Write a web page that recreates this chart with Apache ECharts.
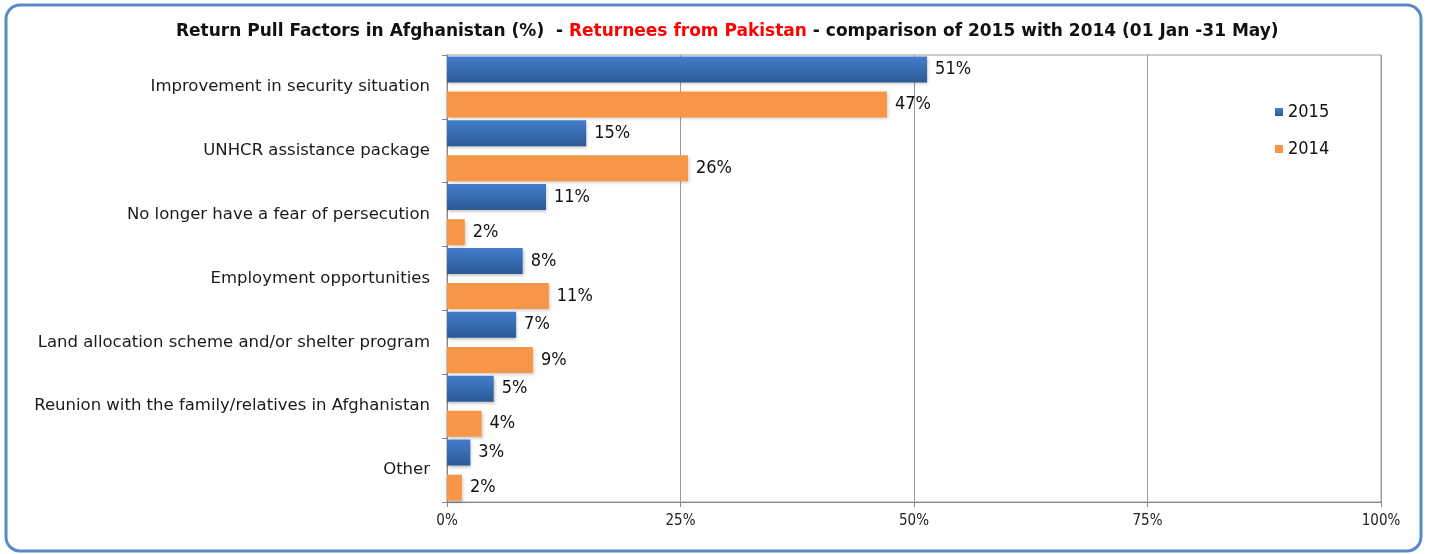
<!DOCTYPE html>
<html>
<head>
<meta charset="utf-8">
<script src="https://cdn.jsdelivr.net/npm/echarts@6/dist/echarts.min.js"></script>
<style>
  html, body { margin: 0; padding: 0; background: #fff; }
  #chart { width: 1429px; height: 554px; }
</style>
</head>
<body>
<div id="chart"></div>
<script>
// categories, top to bottom
var categories = [
  'Improvement in security situation',
  'UNHCR assistance package',
  'No longer have a fear of persecution',
  'Employment opportunities',
  'Land allocation scheme and/or shelter program',
  'Reunion with the family/relatives in Afghanistan',
  'Other'
];
// values (%)
var values2015 = [51.4, 14.9, 10.6, 8.1, 7.4, 5.0, 2.5];
var values2014 = [47.1, 25.8, 1.9, 10.9, 9.2, 3.7, 1.6];
var xTicks = [0, 25, 50, 75, 100];

var font = '"DejaVu Sans", sans-serif';
var narrow = '"DejaVu Sans Condensed", "DejaVu Sans", sans-serif';

var chart = echarts.init(document.getElementById('chart'));
var option = {
  backgroundColor: '#fff',
  textStyle: { fontFamily: font },
  graphic: [{
    type: 'rect',
    shape: { x: 6, y: 5, width: 1415, height: 546, r: 14 },
    style: { fill: 'none', stroke: '#5A8AC8', lineWidth: 3 },
    z: 100
  }],
  title: {
    text: '{a|Return Pull Factors in Afghanistan (%)  - }{b|Returnees from Pakistan}{a| - comparison of 2015 with 2014 (01 Jan -31 May)}',
    left: 176,
    top: 23,
    padding: 0,
    textStyle: {
      rich: {
        a: { fontFamily: font, fontSize: 17, fontWeight: 'bold', color: '#111' },
        b: { fontFamily: font, fontSize: 17, fontWeight: 'bold', color: '#ff0000' }
      }
    }
  },
  legend: {
    orient: 'vertical',
    left: 1270,
    top: 98,
    itemWidth: 8,
    itemHeight: 8,
    itemGap: 19,
    icon: 'rect',
    textStyle: { fontFamily: narrow, fontSize: 18, color: '#111' },
    data: ['2015', '2014']
  },
  grid: {
    left: 447,
    right: 48,
    top: 55,
    bottom: 52,
    show: true,
    borderColor: '#999',
    borderWidth: 1
  },
  xAxis: {
    type: 'value',
    min: xTicks[0],
    max: xTicks[xTicks.length - 1],
    interval: 25,
    axisLine: { show: true, lineStyle: { color: '#888' } },
    axisTick: { show: true, length: 5, lineStyle: { color: '#888' } },
    splitLine: { show: true, lineStyle: { color: '#999', width: 1 } },
    axisLabel: { formatter: '{value}%', fontFamily: narrow, fontSize: 15, color: '#222', margin: 12 }
  },
  yAxis: {
    type: 'category',
    inverse: true,
    data: categories,
    axisLine: { show: true, lineStyle: { color: '#888' } },
    axisTick: { show: true, length: 5, lineStyle: { color: '#888' } },
    axisLabel: { fontFamily: font, fontSize: 16.5, color: '#1a1a1a', margin: 17, verticalAlign: 'middle' }
  },
  series: [
    {
      name: '2015',
      type: 'bar',
      data: values2015,
      barWidth: 26,
      barGap: '35%',
      itemStyle: {
        color: new echarts.graphic.LinearGradient(0, 0, 0, 1, [
          { offset: 0, color: '#427DCB' },
          { offset: 1, color: '#2C5A96' }
        ]),
        shadowBlur: 3,
        shadowOffsetX: 1,
        shadowOffsetY: 2,
        shadowColor: 'rgba(0,0,0,0.25)'
      },
      label: {
        show: true,
        position: 'right',
        distance: 8,
        fontFamily: narrow,
        fontSize: 18,
        color: '#111',
        formatter: function (p) { return Math.round(p.value) + '%'; }
      }
    },
    {
      name: '2014',
      type: 'bar',
      data: values2014,
      barWidth: 26,
      itemStyle: {
        color: '#F79646',
        shadowBlur: 3,
        shadowOffsetX: 1,
        shadowOffsetY: 2,
        shadowColor: 'rgba(0,0,0,0.2)'
      },
      label: {
        show: true,
        position: 'right',
        distance: 8,
        fontFamily: narrow,
        fontSize: 18,
        color: '#111',
        formatter: function (p) { return Math.round(p.value) + '%'; }
      }
    }
  ]
};
chart.setOption(option);
</script>
</body>
</html>
